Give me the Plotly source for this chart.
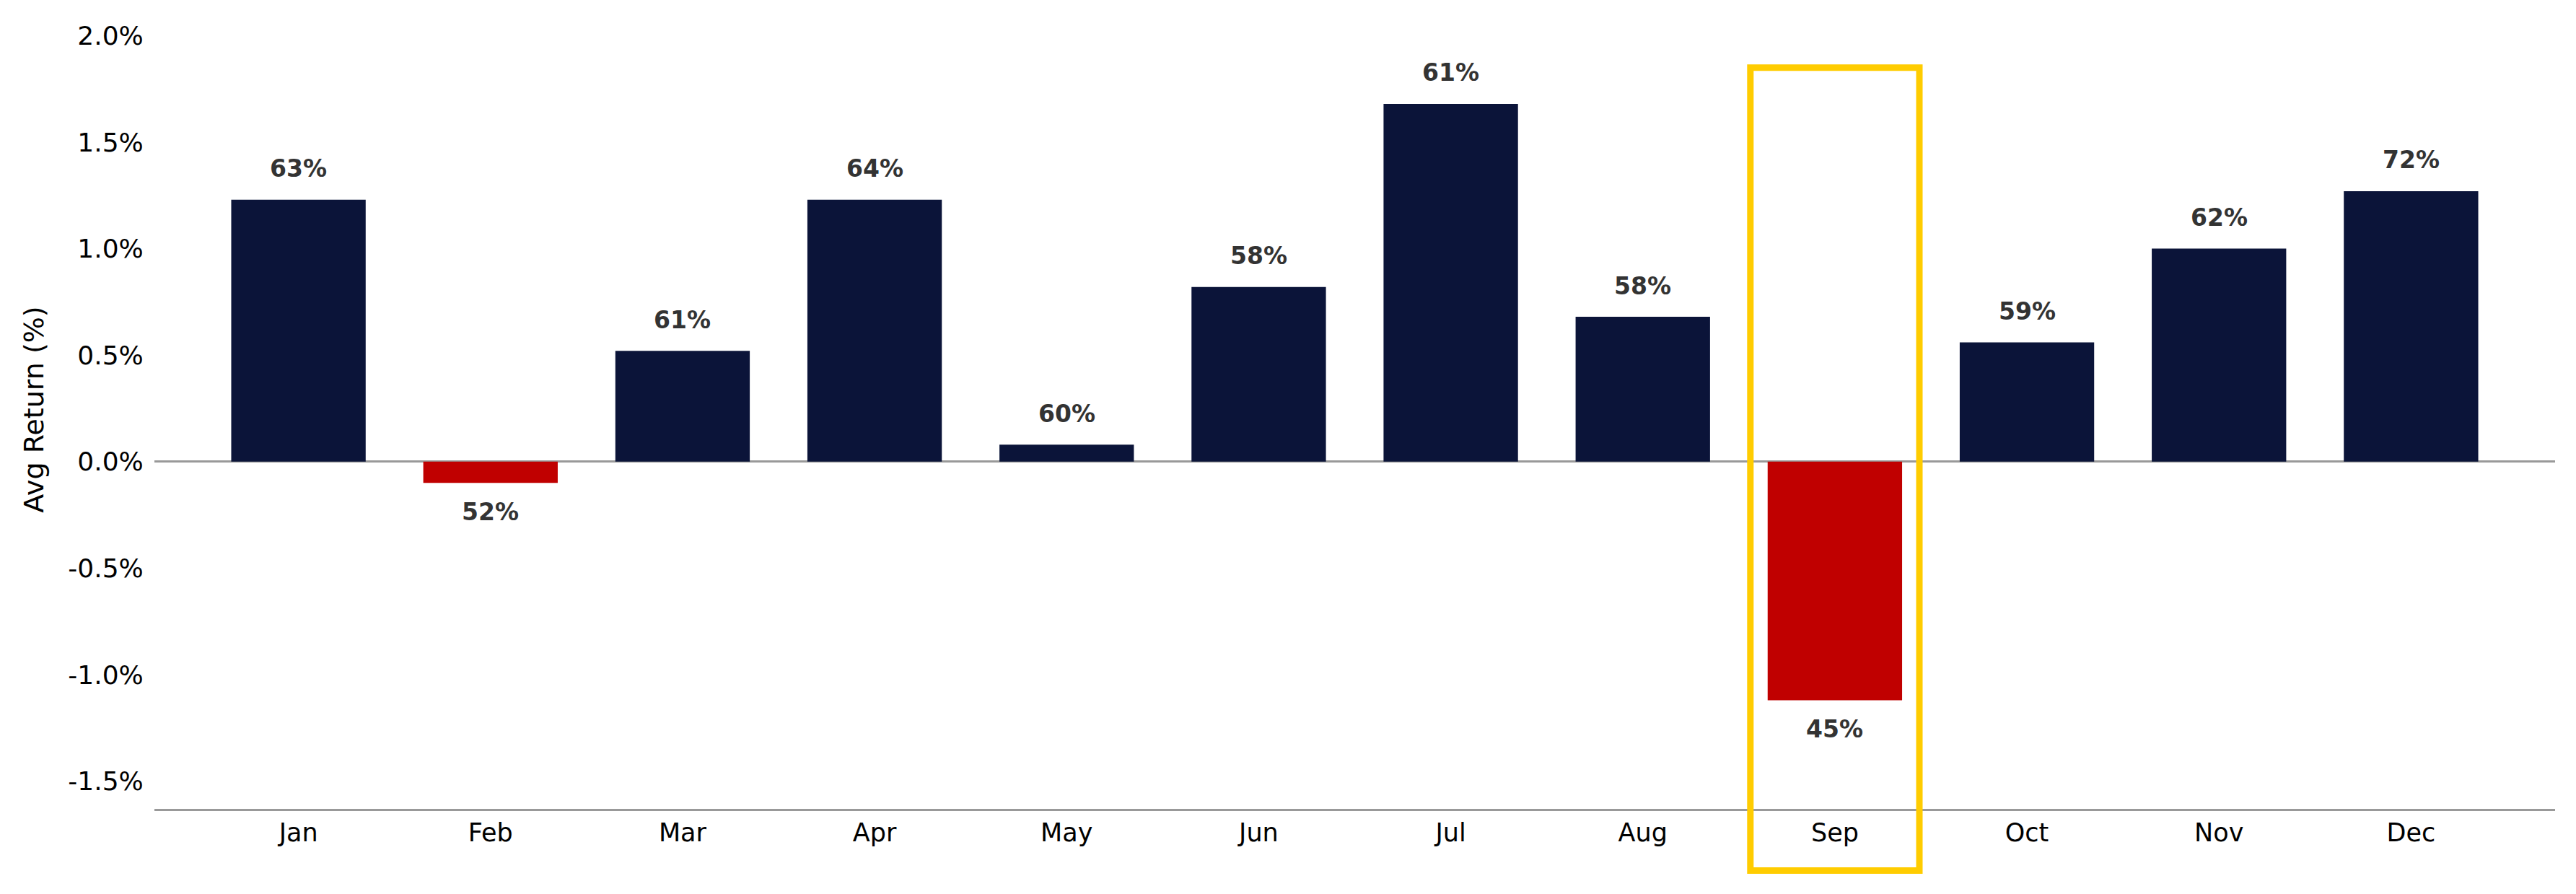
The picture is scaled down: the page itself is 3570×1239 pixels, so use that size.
import plotly.graph_objects as go

# Average monthly return (%) and share of positive years (win rate) per month
months = ["Jan", "Feb", "Mar", "Apr", "May", "Jun",
          "Jul", "Aug", "Sep", "Oct", "Nov", "Dec"]
avg_return = [1.23, -0.10, 0.52, 1.23, 0.08, 0.82,
              1.68, 0.68, -1.12, 0.56, 1.00, 1.27]
win_rate = [63, 52, 61, 64, 60, 58, 61, 58, 45, 59, 62, 72]
y_ticks = [-1.5, -1.0, -0.5, 0.0, 0.5, 1.0, 1.5, 2.0]

highlight_month = "Sep"

NAVY = "#0B1439"
RED = "#C00000"
YELLOW = "#FFCC00"
GREY = "#999999"
LABEL = "#333333"
FONT = "DejaVu Sans"

x_range = [-0.75, 11.75]
y_range = [-1.63, 2.12]

bar_colors = [RED if v < 0 else NAVY for v in avg_return]

fig = go.Figure(
    go.Bar(
        x=months,
        y=avg_return,
        marker=dict(color=bar_colors, line=dict(width=0)),
        width=0.7,
        showlegend=False,
        hoverinfo="skip",
    )
)

# win-rate labels above positive bars, below negative ones
for m, v, w in zip(months, avg_return, win_rate):
    fig.add_annotation(
        x=m, y=v, text=f"{w}%", showarrow=False,
        yshift=43 if v >= 0 else -40,
        xanchor="center", yanchor="middle",
        font=dict(family=FONT, size=33, color=LABEL, weight="bold"),
    )

# yellow frame around the highlighted month (drawn beyond the axes, so use domain coords)
idx = months.index(highlight_month)
x_span = x_range[1] - x_range[0]
y_span = y_range[1] - y_range[0]
fig.add_shape(
    type="rect",
    xref="x domain", yref="y domain",
    x0=(idx - 0.44 - x_range[0]) / x_span,
    x1=(idx + 0.44 - x_range[0]) / x_span,
    y0=(-1.92 - y_range[0]) / y_span,
    y1=(1.85 - y_range[0]) / y_span,
    line=dict(color=YELLOW, width=9),
    fillcolor="rgba(0,0,0,0)",
    layer="above",
)

# the page body adds an 8px offset, so margins are trimmed on the left/top
fig.update_layout(
    width=3570,
    height=1239,
    margin=dict(l=206, r=37, t=6, b=126),
    plot_bgcolor="white",
    paper_bgcolor="white",
    font=dict(family=FONT, size=35, color="black"),
    bargap=0.3,
)

fig.update_xaxes(
    type="category",
    range=x_range,
    showgrid=False,
    zeroline=False,
    showline=True,
    linecolor=GREY,
    linewidth=3,
    ticks="",
    tickfont=dict(family=FONT, size=35, color="black"),
)

fig.update_yaxes(
    range=y_range,
    showgrid=False,
    showline=False,
    zeroline=True,
    zerolinecolor=GREY,
    zerolinewidth=3,
    tickvals=y_ticks,
    ticktext=[f"{t:.1f}%" for t in y_ticks],
    ticks="outside",
    ticklen=7,
    tickcolor="rgba(0,0,0,0)",
    tickfont=dict(family=FONT, size=36, color="black"),
    title=dict(text="Avg Return (%)", font=dict(family=FONT, size=38, color="black"),
               standoff=22),
)

fig.write_html("out.html")
